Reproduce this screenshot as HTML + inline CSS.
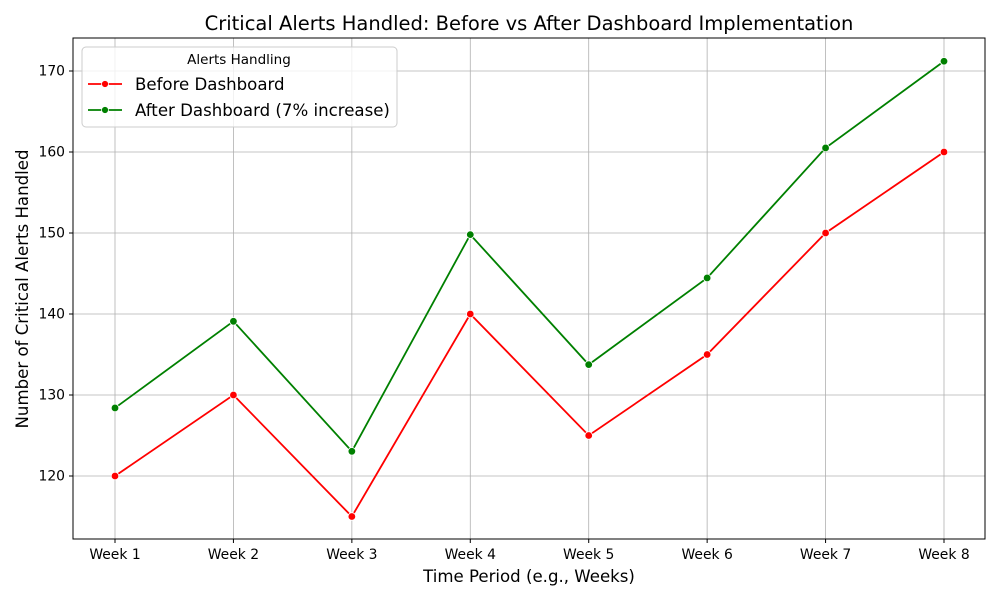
<!DOCTYPE html>
<html><head><meta charset="utf-8"><style>
body{margin:0;background:#fff;font-family:"DejaVu Sans",sans-serif}
</style></head><body>
<svg id="chart" width="1000" height="600" xmlns="http://www.w3.org/2000/svg" font-family="DejaVu Sans, sans-serif">
<rect width="1000" height="600" fill="#fff"/>
<g id="grid"></g><g id="series"></g><g id="axes"></g>
<text x="529" y="30" font-size="19.5" text-anchor="middle" fill="#000">Critical Alerts Handled: Before vs After Dashboard Implementation</text>
<text x="529" y="582" font-size="16.6" text-anchor="middle">Time Period (e.g., Weeks)</text>
<text transform="translate(28,289) rotate(-90)" font-size="16.6" text-anchor="middle">Number of Critical Alerts Handled</text>
<g>
<rect x="82" y="47" width="315" height="80" rx="4" fill="#fff" fill-opacity="0.8" stroke="#ccc"/>
<text x="239" y="64" font-size="13.5" text-anchor="middle">Alerts Handling</text>
<g><line x1="88" y1="84" x2="122" y2="84" stroke="red" stroke-width="1.8"/><circle cx="105" cy="84" r="3.5" fill="red" stroke="#fff" stroke-width="0.8"/><text x="135" y="90" font-size="16.6">Before Dashboard</text></g>
<g><line x1="88" y1="110" x2="122" y2="110" stroke="green" stroke-width="1.8"/><circle cx="105" cy="110" r="3.5" fill="green" stroke="#fff" stroke-width="0.8"/><text x="135" y="116" font-size="16.6">After Dashboard (7% increase)</text></g>
</g>
</svg>
<script>
const categories=["Week 1","Week 2","Week 3","Week 4","Week 5","Week 6","Week 7","Week 8"];
const beforeValues=[120,130,115,140,125,135,150,160];
const afterValues=[128.4,139.1,123.05,149.8,133.75,144.45,160.5,171.2];
const yTicks=[120,130,140,150,160,170];
const NS="http://www.w3.org/2000/svg";
const L=73,R=985,T=38,B=539;
const x=i=>115+i*(944-115)/(categories.length-1);
const y=v=>476-(v-120)*8.1;
function mk(t,a,p){const e=document.createElementNS(NS,t);for(const k in a)e.setAttribute(k,a[k]);p.appendChild(e);return e;}
const grid=document.getElementById('grid'),axes=document.getElementById('axes'),ser=document.getElementById('series');
categories.forEach((c,i)=>{
 const g=mk('line',{x1:x(i),x2:x(i),y1:T,y2:B,stroke:'#b0b0b0','stroke-width':0.8},grid);
 
 
 mk('line',{x1:x(i),x2:x(i),y1:B,y2:B+4,stroke:'#000'},axes);
 const t=mk('text',{x:x(i),y:B+20,'font-size':13.9,'text-anchor':'middle'},axes);t.textContent=c;
 
 
});
yTicks.forEach(v=>{
 const g=mk('line',{x1:L,x2:R,y1:y(v),y2:y(v),stroke:'#b0b0b0','stroke-width':0.8},grid);
 
 
 mk('line',{x1:L-4,x2:L,y1:y(v),y2:y(v),stroke:'#000'},axes);
 const t=mk('text',{x:L-8,y:y(v)+4.5,'font-size':13.9,'text-anchor':'end'},axes);t.textContent=v;
 
 
});
const fr=mk('rect',{x:L,y:T,width:R-L,height:B-T,fill:'none',stroke:'#000','stroke-width':1},axes);


[[beforeValues,'red','before'],[afterValues,'green','after']].forEach(([vals,col,nm])=>{
 const p=mk('polyline',{points:vals.map((v,i)=>x(i)+','+y(v)).join(' '),fill:'none',stroke:col,'stroke-width':1.8},ser);
 
 
 vals.forEach((v,i)=>{
  const c=mk('circle',{cx:x(i),cy:y(v),r:3.8,fill:col,stroke:'#fff','stroke-width':0.8},ser);
  
  
 });
});
</script>
</body></html>
